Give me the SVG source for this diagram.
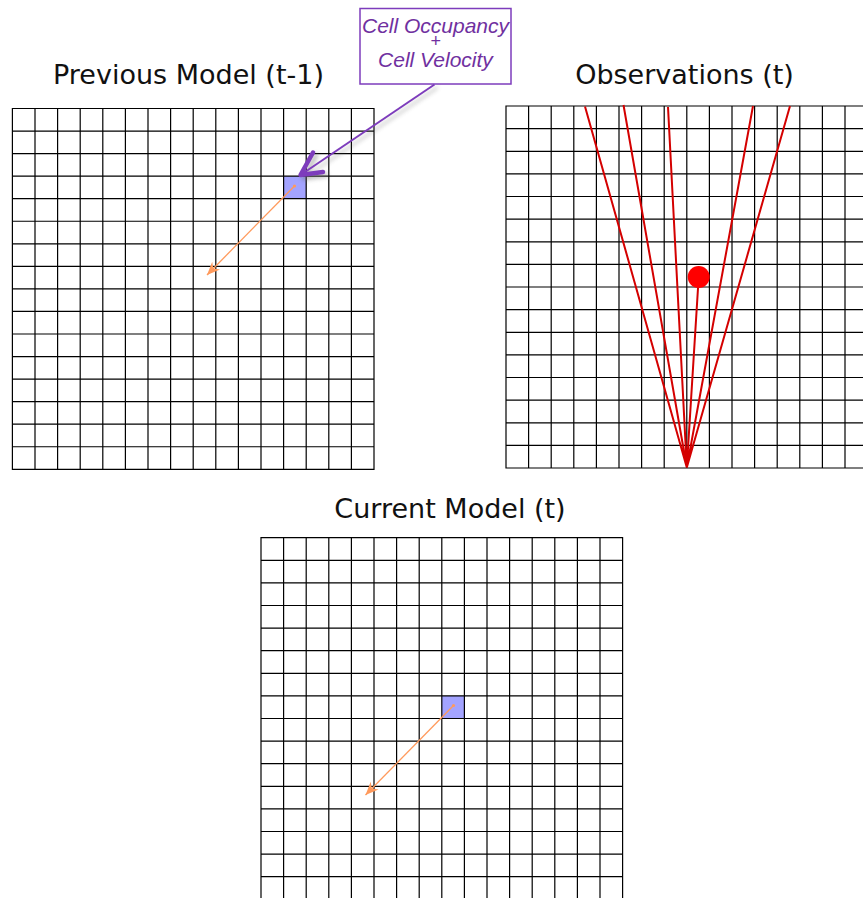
<svg xmlns="http://www.w3.org/2000/svg" width="863" height="898" viewBox="0 0 863 898">
<style>
.grid{fill:none;stroke:#000;stroke-width:1.2;stroke-linecap:square}
.title{font-family:"DejaVu Sans",sans-serif;font-size:27px;fill:#111;text-anchor:middle}
.cell{fill:#a3a3ff}
.vel{fill:none;stroke:#ff9a5c;stroke-width:1.3}
.ray{fill:none;stroke:#d40000;stroke-width:2}
.call{font-family:"Liberation Sans",Arial,sans-serif;font-style:italic;fill:#7030a0;text-anchor:middle}
.purple{fill:none;stroke:#7d3cbc}
</style>
<defs>
<marker id="oh" viewBox="-14 -7 16 14" refX="0" refY="0" markerWidth="16" markerHeight="14" markerUnits="userSpaceOnUse" orient="auto">
<path d="M0,0 L-13,-5.5 L-9,0 L-13,5.5 Z" fill="#ff9a5c"/>
</marker>
<filter id="sh" x="-20%" y="-20%" width="140%" height="140%"><feGaussianBlur stdDeviation="2"/></filter>
</defs>

<g id="previous-model">
<text class="title" x="188.5" y="84.3">Previous Model (t-1)</text>
<rect class="cell" x="283.6" y="176.15" width="22.6" height="22.55"/>
<path class="grid" d="M12.4 108.5V469.3M35 108.5V469.3M57.6 108.5V469.3M80.2 108.5V469.3M102.8 108.5V469.3M125.4 108.5V469.3M148 108.5V469.3M170.6 108.5V469.3M193.2 108.5V469.3M215.8 108.5V469.3M238.4 108.5V469.3M261 108.5V469.3M283.6 108.5V469.3M306.2 108.5V469.3M328.8 108.5V469.3M351.4 108.5V469.3M374 108.5V469.3M12.4 108.5H374M12.4 131.05H374M12.4 153.6H374M12.4 176.15H374M12.4 198.7H374M12.4 221.25H374M12.4 243.8H374M12.4 266.35H374M12.4 288.9H374M12.4 311.45H374M12.4 334H374M12.4 356.55H374M12.4 379.1H374M12.4 401.65H374M12.4 424.2H374M12.4 446.75H374M12.4 469.3H374"/>
<circle cx="294.5" cy="186" r="1.6" fill="#ff9a5c"/>
<line class="vel" x1="294.5" y1="186" x2="207" y2="275" marker-end="url(#oh)"/>
</g>

<g id="observations">
<text class="title" x="684.5" y="84">Observations (t)</text>
<path class="grid" d="M506 106V468M528.6 106V468M551.2 106V468M573.8 106V468M596.4 106V468M619 106V468M641.6 106V468M664.2 106V468M686.8 106V468M709.4 106V468M732 106V468M754.6 106V468M777.2 106V468M799.8 106V468M822.4 106V468M845 106V468M506 106H867.6M506 128.6H867.6M506 151.3H867.6M506 173.9H867.6M506 196.5H867.6M506 219.1H867.6M506 241.8H867.6M506 264.4H867.6M506 287H867.6M506 309.6H867.6M506 332.3H867.6M506 354.9H867.6M506 377.5H867.6M506 400.1H867.6M506 422.8H867.6M506 445.4H867.6M506 468H867.6"/>
<path class="ray" d="M686.8 467.5L585 106.5M686.8 467.5L623.5 105M686.8 467.5L668 107M686.8 467.5L698.7 277M686.8 467.5L753 106M686.8 467.5L790 106"/>
<circle cx="698.7" cy="277" r="11" fill="#ff0000"/>
</g>

<g id="current-model">
<text class="title" x="450" y="518">Current Model (t)</text>
<rect class="cell" x="441.8" y="695.9" width="22.6" height="22.6"/>
<path class="grid" d="M261 537.7V898M283.6 537.7V898M306.2 537.7V898M328.8 537.7V898M351.4 537.7V898M374 537.7V898M396.6 537.7V898M419.2 537.7V898M441.8 537.7V898M464.4 537.7V898M487 537.7V898M509.6 537.7V898M532.2 537.7V898M554.8 537.7V898M577.4 537.7V898M600 537.7V898M622.6 537.7V898M261 537.7H622.6M261 560.3H622.6M261 582.9H622.6M261 605.5H622.6M261 628.1H622.6M261 650.7H622.6M261 673.3H622.6M261 695.9H622.6M261 718.5H622.6M261 741.1H622.6M261 763.7H622.6M261 786.3H622.6M261 808.9H622.6M261 831.5H622.6M261 854.1H622.6M261 876.7H622.6"/>
<circle cx="453.5" cy="705.5" r="1.6" fill="#ff9a5c"/>
<line class="vel" x1="453.5" y1="705.5" x2="365.5" y2="795" marker-end="url(#oh)"/>
</g>

<g id="callout">
<rect x="360" y="8.5" width="151" height="75.5" fill="#fff" stroke="#7d3cbc" stroke-width="1.5"/>
<text class="call" font-size="21"><tspan x="435.5" y="33">Cell Occupancy</tspan><tspan x="435.5" y="47" font-size="18">+</tspan><tspan x="435.5" y="67">Cell Velocity</tspan></text>
</g>

<g id="connectors">
<g opacity="0.45" filter="url(#sh)" transform="translate(3,3)">
<path d="M434.5 84.5L302 174" fill="none" stroke="#666" stroke-width="2"/>
<path d="M313 152.5L300.5 175L323 172" fill="none" stroke="#666" stroke-width="4.5" stroke-linecap="round" stroke-linejoin="round"/>
</g>
<path class="purple" d="M434.5 84.5L302 174" stroke-width="2"/>
<path class="purple" d="M313 152.5L300.5 175L323 172" stroke-width="4.5" stroke-linecap="round" stroke-linejoin="round"/>
</g>
</svg>
